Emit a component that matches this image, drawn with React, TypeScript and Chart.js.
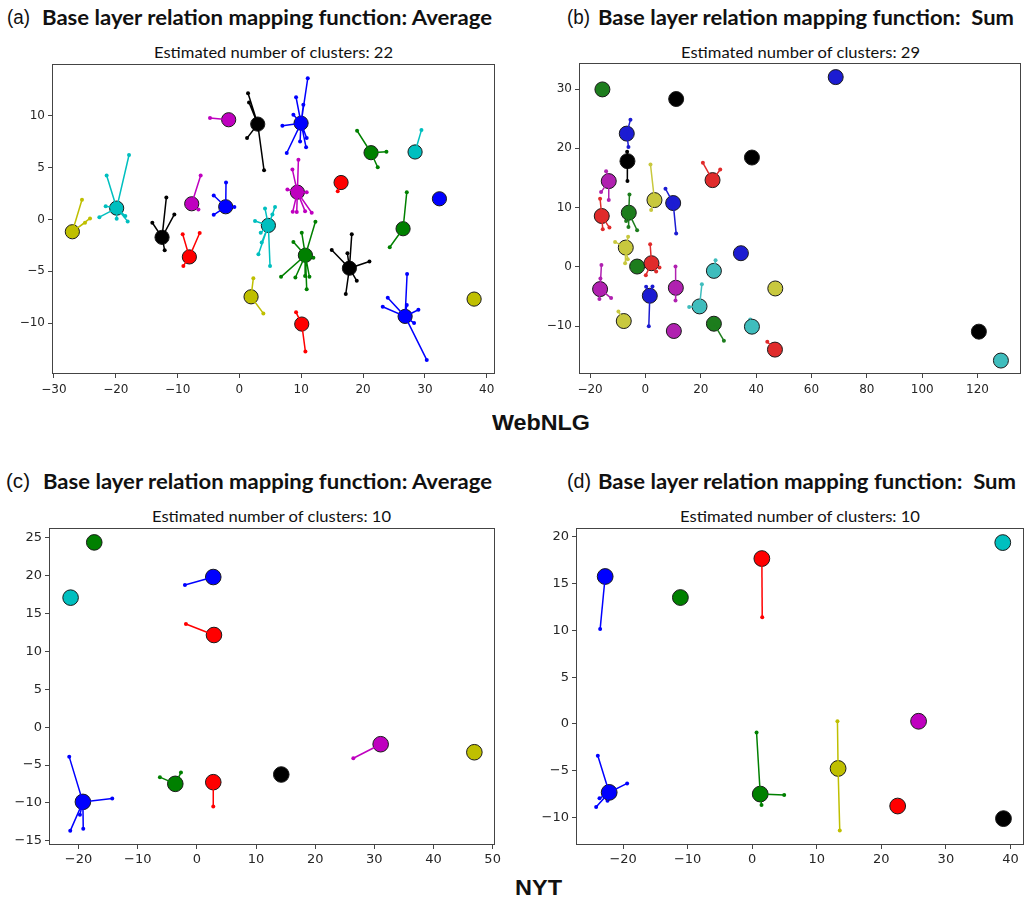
import React, { useEffect, useLayoutEffect, useRef } from "react";
import { Chart, registerables } from "chart.js";
Chart.register(...registerables);

type Pt = [number, number];

// ---------- (a) WebNLG, Average ----------
const centersA: Pt[] = [
  [-27.03, -1.19], [-19.86, 1.09], [-12.52, -1.73], [-7.72, 1.51], [-8.1, -3.62], [-2.22, 1.22],
  [-1.74, 9.62], [2.96, 9.2], [4.68, -0.58], [1.88, -7.47], [9.97, 9.29], [9.37, 2.63],
  [10.08, -10.1], [10.67, -3.46], [16.44, 3.56], [17.79, -4.71], [21.29, 6.44], [28.41, 6.51],
  [26.47, -0.9], [32.35, 1.99], [26.8, -9.36], [37.96, -7.69],
];
const colorsA = "yckmrbmkcybmrgrkgcgbby";
const membersA: Pt[][] = [
  [[-25.47, 1.89], [-24.17, 0.1], [-24.98, -0.32]],
  [[-17.86, 6.22], [-21.48, 4.23], [-21.64, 1.28], [-22.66, 0.22], [-19.86, 0.06], [-18.46, 0.32], [-18.08, -0.19]],
  [[-11.82, 2.12], [-10.53, 0.48], [-14.09, -0.32], [-12.09, -2.98]],
  [[-6.27, 4.23], [-6.64, 0.96]],
  [[-9.18, -1.44], [-6.43, -1.31], [-9.07, -4.49]],
  [[-2.17, 3.56], [-4.16, 2.31], [-4.16, 0.45], [-0.82, 1.19]],
  [[-4.76, 9.78]],
  [[1.39, 12.18], [1.55, 11.28], [1.23, 7.85], [3.98, 4.74]],
  [[2.52, -0.16], [4.14, 1.06], [5.76, 1.19], [5.33, 0.48], [3.44, -1.28], [3.6, -2.24], [3.07, -3.37], [4.95, -4.49]],
  [[2.25, -5.67], [3.87, -9.07]],
  [[11.05, 13.62], [9.16, 11.79], [10.34, 11.06], [6.95, 9.04], [7.65, 6.41], [10.78, 6.96], [10.88, 7.85], [9.81, 7.53], [8.73, 10.1]],
  [[9.54, 5.77], [8.57, 4.81], [7.76, 2.88], [10.88, 2.63], [8.62, 0.74], [9.27, 0.71], [10.62, 0.8], [11.69, 0.64]],
  [[9.16, -8.97], [10.67, -12.76]],
  [[12.29, -0.22], [10.08, -1.28], [8.73, -2.18], [6.73, -5.54], [9.05, -5.61], [10.88, -6.73], [11.32, -5.54], [11.96, -3.69], [10.62, -5.45]],
  [[15.9, 2.72]],
  [[14.93, -2.95], [18.17, -1.44], [17.47, -3.27], [21.03, -4.07], [18.98, -5.93], [17.2, -7.21]],
  [[19.03, 8.56], [23.78, 6.54], [22.37, 5.03]],
  [[29.44, 8.62]],
  [[27.07, 2.63], [24.31, -2.69]],
  [],
  [[27.12, -5.26], [23.99, -7.56], [23.18, -8.43], [28.95, -8.72], [30.3, -13.56], [28.25, -10.0], [27.07, -8.27]],
  [],
];
const xTicksA = [-30, -20, -10, 0, 10, 20, 30, 40];
const yTicksA = [-10, -5, 0, 5, 10];

// ---------- (b) WebNLG, Sum ----------
const centersB: Pt[] = [
  [-15.54, 29.94], [11.11, 28.32], [68.75, 32.02], [-6.74, 22.48], [-6.49, 17.83], [38.48, 18.44],
  [24.25, 14.63], [-13.25, 14.46], [3.27, 11.26], [10.03, 10.76], [-15.78, 8.57], [-6.01, 9.13],
  [-7.1, 3.24], [-3.0, 0.04], [2.19, 0.6], [34.5, 2.29], [24.74, -0.69], [-16.38, -3.77],
  [1.58, -4.89], [10.99, -3.55], [46.92, -3.66], [19.55, -6.69], [-7.82, -9.16], [24.74, -9.61],
  [10.27, -10.84], [38.48, -10.11], [46.8, -13.98], [120.48, -10.95], [128.44, -15.83],
];
const colorsB = "gkbbkkrmybrgygrbcmbmycygmcrkc";
const membersB: Pt[][] = [
  [], [], [],
  [[-5.41, 24.84], [-6.13, 20.24]],
  [[-6.61, 19.4], [-6.49, 14.46]],
  [],
  [[20.76, 17.55], [27.03, 16.42]],
  [[-14.21, 16.14], [-16.02, 12.61], [-13.25, 11.26]],
  [[1.83, 17.27], [2.07, 9.58]],
  [[7.25, 13.17], [11.11, 5.6]],
  [[-16.38, 11.49], [-15.42, 6.33], [-13.0, 6.61]],
  [[-5.77, 12.22], [-6.13, 6.72], [-3.0, 6.16], [-6.98, 7.73]],
  [[-10.96, 4.19], [-6.25, 5.09], [-7.34, 0.6], [-6.37, 1.28]],
  [],
  [[1.71, 3.8], [5.08, -0.13], [0.14, -1.42], [3.88, -0.8]],
  [],
  [[25.34, 1.11]],
  [[-15.9, 0.32], [-16.62, -5.46], [-12.4, -5.29], [-16.26, -1.98]],
  [[0.26, -3.38], [2.55, -3.32], [1.22, -10.06]],
  [[10.87, 0.04], [10.87, -5.68]],
  [],
  [[20.4, -2.93], [15.81, -6.8]],
  [[-9.75, -7.53]],
  [[28.35, -12.47]],
  [],
  [[37.88, -8.88]],
  [[44.03, -12.64]],
  [], [],
];
const xTicksB = [-20, 0, 20, 40, 60, 80, 100, 120];
const yTicksB = [-10, 0, 10, 20, 30];

// ---------- (c) NYT, Average ----------
const centersC: Pt[] = [
  [-17.35, 24.38], [-21.35, 17.09], [2.77, 19.81], [2.89, 12.16], [31.07, -2.25],
  [46.91, -3.31], [14.27, -6.25], [2.77, -7.26], [-3.65, -7.48], [-19.27, -9.86],
];
const colorsC = "gcbrmykrgb";
const membersC: Pt[][] = [
  [], [],
  [[-2.02, 18.76]],
  [[-1.85, 13.62]],
  [[26.45, -4.1]],
  [], [],
  [[2.77, -10.47]],
  [[-6.25, -6.6], [-2.69, -5.99]],
  [[-21.58, -3.92], [-14.31, -9.42], [-21.41, -13.68], [-19.21, -13.42], [-19.77, -11.57]],
];
const xTicksC = [-20, -10, 0, 10, 20, 30, 40, 50];
const yTicksC = [-15, -10, -5, 0, 5, 10, 15, 20, 25];

// ---------- (d) NYT, Sum ----------
const centersD: Pt[] = [
  [38.81, 19.4], [1.49, 17.69], [-22.78, 15.77], [-11.13, 13.52], [25.77, 0.28],
  [13.3, -4.77], [1.24, -7.51], [22.53, -8.79], [38.92, -10.14], [-22.16, -7.33],
];
const colorsD = "crbgmygrkb";
const membersD: Pt[][] = [
  [],
  [[1.55, 11.42]],
  [[-23.56, 10.14]],
  [], [],
  [[13.2, 0.28], [13.56, -11.42]],
  [[0.67, -0.93], [4.95, -7.62], [1.44, -8.68]],
  [], [],
  [[-23.92, -3.42], [-19.38, -6.37], [-24.18, -8.9], [-23.66, -7.97], [-22.42, -8.22]],
];
const xTicksD = [-20, -10, 0, 10, 20, 30, 40];
const yTicksD = [-10, -5, 0, 5, 10, 15, 20];

const PAL_STD: Record<string, string> = {
  b: "#0000ff", g: "#008000", r: "#ff0000", c: "#00bfbf", m: "#bf00bf", y: "#bfbf00", k: "#000000",
};
const PAL_B: Record<string, string> = {
  b: "#1c1cd2", g: "#1d7d1d", r: "#e02b2b", c: "#3fbdbd", m: "#b021b0", y: "#c8c83e", k: "#000000",
};

const framePlugin = {
  id: "frame",
  afterDraw(chart: any) {
    const { ctx, chartArea: a } = chart;
    ctx.save();
    ctx.strokeStyle = "#444";
    ctx.lineWidth = 1;
    ctx.strokeRect(Math.round(a.left) + 0.5, Math.round(a.top) + 0.5, Math.round(a.right - a.left) - 1, Math.round(a.bottom - a.top) - 1);
    ctx.restore();
  },
};

const fmt = (v: number) => (v < 0 ? "\u2212" + Math.abs(v) : String(v));

type PanelProps = {
  rect: [number, number, number, number];
  centers: Pt[];
  colors: string;
  members: Pt[][];
  xTicks: number[];
  yTicks: number[];
  xRange: [number, number];
  yRange: [number, number];
  palette: Record<string, string>;
  centerR: number;
  dotR: number;
  tickSize: number;
  xPad: number;
};

const PAD_L = 50, PAD_T = 10, PAD_R = 22, PAD_B = 30;

function ClusterPanel(p: PanelProps) {
  const ref = useRef<HTMLCanvasElement>(null);
  const [L, T, R, B] = p.rect;
  const W = R - L + PAD_L + PAD_R;
  const H = B - T + PAD_T + PAD_B;
  useEffect(() => {
    if (!ref.current) return;
    const datasets: any[] = [];
    let seq = 0;
    p.centers.forEach((c, k) => {
      const col = p.palette[p.colors[k]];
      const mem = p.members[k];
      const cpt = { x: c[0], y: c[1] };
      datasets.push({
        data: [cpt, ...mem.map((m) => ({ x: m[0], y: m[1] }))],
        pointRadius: p.dotR, pointBackgroundColor: col, pointBorderWidth: 0, showLine: false,
        order: -seq++,
      });
      datasets.push({
        data: [cpt],
        pointRadius: p.centerR, pointBackgroundColor: col, pointBorderColor: "#1a1a1a", pointBorderWidth: 1,
        showLine: false, order: -seq++,
      });
      if (mem.length) {
        const path: any[] = [];
        mem.forEach((m) => { path.push(cpt); path.push({ x: m[0], y: m[1] }); });
        datasets.push({
          data: path, showLine: true, borderColor: col, borderWidth: 1.5, pointRadius: 0,
          tension: 0, order: -seq++,
        });
      }
    });
    const tickFont = { family: "DejaVu Sans", size: p.tickSize };
    const chart = new Chart(ref.current, {
      type: "scatter",
      data: { datasets },
      plugins: [framePlugin],
      options: {
        responsive: false,
        animation: false,
        events: [],
        layout: { padding: { left: 0, top: PAD_T, right: PAD_R, bottom: 0 } },
        plugins: { legend: { display: false }, tooltip: { enabled: false } },
        scales: {
          x: {
            type: "linear", position: "bottom", min: p.xRange[0], max: p.xRange[1],
            afterBuildTicks: (s: any) => { s.ticks = p.xTicks.map((v) => ({ value: v })); },
            afterFit: (s: any) => { s.height = PAD_B; s.paddingLeft = 0; s.paddingRight = 0; },
            ticks: { font: tickFont, color: "#262626", padding: p.xPad, maxRotation: 0, autoSkip: false, callback: (v: any) => fmt(Number(v)) },
            grid: { drawOnChartArea: false, drawTicks: true, tickLength: 4, color: "#444", lineWidth: 1 },
            border: { display: false },
          },
          y: {
            type: "linear", position: "left", min: p.yRange[0], max: p.yRange[1],
            afterBuildTicks: (s: any) => { s.ticks = p.yTicks.map((v) => ({ value: v })); },
            afterFit: (s: any) => { s.width = PAD_L; s.paddingTop = 0; s.paddingBottom = 0; },
            ticks: { font: tickFont, color: "#262626", padding: 3, autoSkip: false, callback: (v: any) => fmt(Number(v)) },
            grid: { drawOnChartArea: false, drawTicks: true, tickLength: 4, color: "#444", lineWidth: 1 },
            border: { display: false },
          },
        },
      } as any,
    });
    return () => chart.destroy();
  }, []);
  return (
    <canvas
      ref={ref}
      width={W}
      height={H}
      style={{ position: "absolute", left: L - PAD_L, top: T - PAD_T, width: W, height: H }}
    />
  );
}

type TextProps = {
  text: string; left: number; cy: number; width: number; size: number;
  weight?: number | string; family: string; color?: string;
};

function FitText(t: TextProps) {
  const ref = useRef<HTMLSpanElement>(null);
  useLayoutEffect(() => {
    const el = ref.current;
    if (!el) return;
    el.style.transform = "none";
    const w = el.getBoundingClientRect().width;
    if (w > 0) el.style.transform = `scaleX(${t.width / w})`;
  }, [t.text, t.width]);
  const lh = Math.round(t.size * 1.2);
  return (
    <span
      ref={ref}
      style={{
        position: "absolute", left: t.left, top: t.cy - lh / 2, fontSize: t.size, lineHeight: `${lh}px`,
        fontFamily: t.family, fontWeight: t.weight ?? 400, whiteSpace: "pre", transformOrigin: "0 0",
        display: "inline-block", color: t.color ?? "#111",
      }}
    >
      {t.text}
    </span>
  );
}

const TITLE_FONT = "Lato, 'Liberation Sans', sans-serif";
const SUB_FONT = "Lato, 'Liberation Sans', sans-serif";
const LABEL_FONT = "'Liberation Sans', Arial, sans-serif";

export default function App() {
  return (
    <div style={{ position: "absolute", left: 0, top: 0, width: 1026, height: 903, overflow: "hidden", background: "#fff" }}>
      <FitText text="(a)" left={7} cy={17} width={23} size={20} family={LABEL_FONT} />
      <FitText text="Base layer relation mapping function: Average" left={42} cy={17} width={450} size={20} weight={700} family={TITLE_FONT} />
      <FitText text="(b)" left={567} cy={17} width={23} size={20} family={LABEL_FONT} />
      <FitText text="Base layer relation mapping function:  Sum" left={598} cy={17} width={416} size={20} weight={700} family={TITLE_FONT} />
      <FitText text="Estimated number of clusters: 22" left={154} cy={52} width={239} size={15} family={SUB_FONT} />
      <FitText text="Estimated number of clusters: 29" left={681} cy={52} width={239} size={15} family={SUB_FONT} />

      <ClusterPanel rect={[52, 64, 495, 374]} centers={centersA} colors={colorsA} members={membersA}
        xTicks={xTicksA} yTicks={yTicksA} xRange={[-30.32, 41.34]} yRange={[-14.92, 15.0]}
        palette={PAL_STD} centerR={7.1} dotR={2} tickSize={12} xPad={5} />
      <ClusterPanel rect={[579, 63, 1021, 374]} centers={centersB} colors={colorsB} members={membersB}
        xTicks={xTicksB} yTicks={yTicksB} xRange={[-24.0, 135.7]} yRange={[-18.1, 34.4]}
        palette={PAL_B} centerR={7.5} dotR={2} tickSize={12} xPad={5} />

      <FitText text="WebNLG" left={492} cy={423} width={98} size={22} weight={700} family={LABEL_FONT} />

      <FitText text="(c)" left={6} cy={481} width={24} size={20} family={LABEL_FONT} />
      <FitText text="Base layer relation mapping function: Average" left={43} cy={481} width={449} size={20} weight={700} family={TITLE_FONT} />
      <FitText text="(d)" left={567} cy={481} width={24} size={20} family={LABEL_FONT} />
      <FitText text="Base layer relation mapping function:  Sum" left={598} cy={481} width={418} size={20} weight={700} family={TITLE_FONT} />
      <FitText text="Estimated number of clusters: 10" left={152} cy={516} width={239} size={15} family={SUB_FONT} />
      <FitText text="Estimated number of clusters: 10" left={680} cy={516} width={240} size={15} family={SUB_FONT} />

      <ClusterPanel rect={[49, 528, 495, 845]} centers={centersC} colors={colorsC} members={membersC}
        xTicks={xTicksC} yTicks={yTicksC} xRange={[-25.0, 50.4]} yRange={[-15.55, 26.28]}
        palette={PAL_STD} centerR={7.8} dotR={2} tickSize={13} xPad={3} />
      <ClusterPanel rect={[576, 528, 1024, 845]} centers={centersD} colors={colorsD} members={membersD}
        xTicks={xTicksD} yTicks={yTicksD} xRange={[-27.3, 42.1]} yRange={[-12.96, 20.96]}
        palette={PAL_STD} centerR={7.9} dotR={2} tickSize={13} xPad={3} />

      <FitText text="NYT" left={515} cy={888} width={47} size={22} weight={700} family={LABEL_FONT} />
    </div>
  );
}
